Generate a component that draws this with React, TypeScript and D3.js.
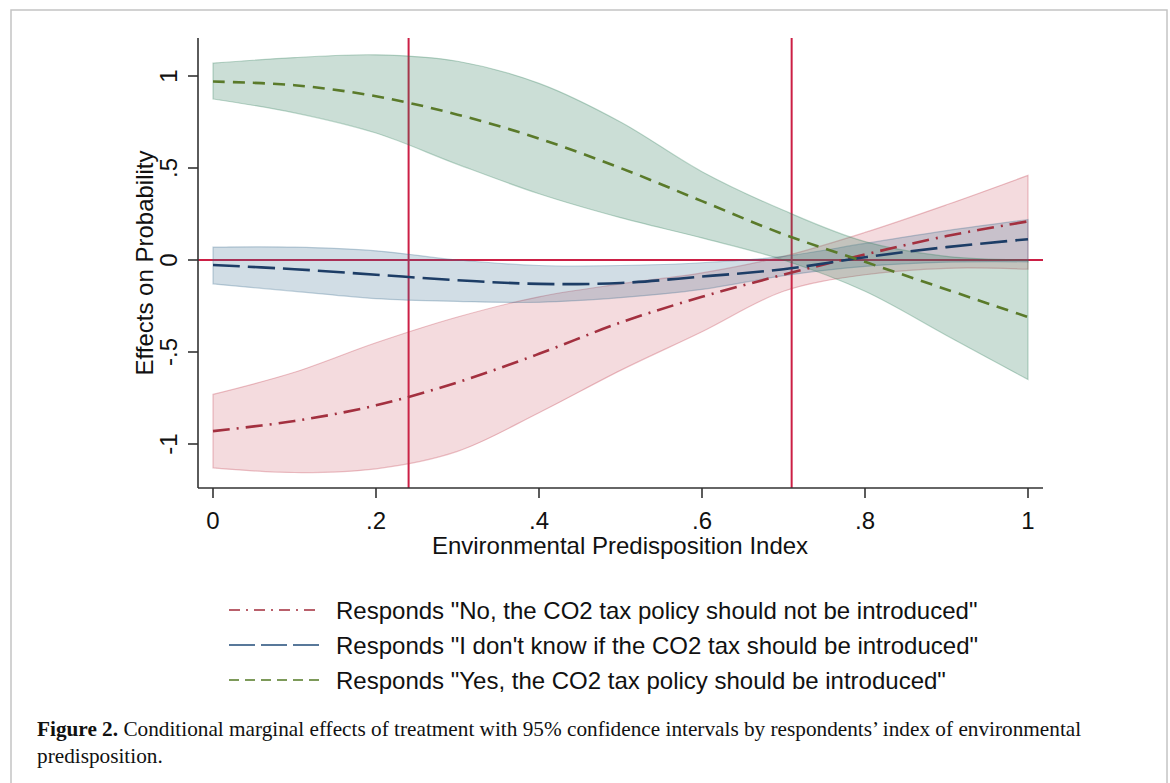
import React from "react";
import * as d3 from "d3";

const xs = [0, 0.1, 0.2, 0.3, 0.4, 0.5, 0.6, 0.7, 0.8, 0.9, 1.0];

const noMean = [-0.93, -0.875, -0.79, -0.665, -0.51, -0.34, -0.2, -0.08, 0.03, 0.13, 0.21];
const noUpper = [-0.73, -0.61, -0.45, -0.31, -0.2, -0.13, -0.07, 0.02, 0.15, 0.3, 0.46];
const noLower = [-1.13, -1.155, -1.135, -1.04, -0.83, -0.6, -0.39, -0.17, -0.08, -0.045, -0.05];

const dkMean = [-0.027, -0.05, -0.08, -0.11, -0.13, -0.125, -0.09, -0.05, 0.015, 0.07, 0.113];
const dkUpper = [0.07, 0.07, 0.05, 0.0, -0.03, -0.03, -0.015, 0.02, 0.09, 0.16, 0.22];
const dkLower = [-0.13, -0.17, -0.21, -0.225, -0.23, -0.205, -0.16, -0.085, -0.035, -0.012, -0.01];

const yesMean = [0.97, 0.95, 0.89, 0.79, 0.66, 0.5, 0.32, 0.14, -0.01, -0.16, -0.31];
const yesUpper = [1.07, 1.1, 1.115, 1.08, 0.96, 0.75, 0.48, 0.27, 0.1, 0.02, 0.0];
const yesLower = [0.875, 0.8, 0.69, 0.52, 0.36, 0.23, 0.12, 0.0, -0.17, -0.41, -0.65];

const refX = [0.24, 0.71];
const refY = [0];

const xTicks = [0, 0.2, 0.4, 0.6, 0.8, 1];
const xTickLabels = ["0", ".2", ".4", ".6", ".8", "1"];
const yTicks = [-1, -0.5, 0, 0.5, 1];
const yTickLabels = ["-1", "-.5", "0", ".5", "1"];

const legendLabels = [
  'Responds "No, the CO2 tax policy should not be introduced"',
  'Responds "I don\'t know if the CO2 tax should be introduced"',
  'Responds "Yes, the CO2 tax policy should be introduced"',
];

const series = [
  { mean: noMean, upper: noUpper, lower: noLower, line: "#a3303f", fill: "#c0394a", fillOp: 0.18, dash: "17 7 2 7", legendDash: "11 6 2 6", legendColor: "#b9606b" },
  { mean: dkMean, upper: dkUpper, lower: dkLower, line: "#1d3d66", fill: "#3a6e8e", fillOp: 0.23, dash: "27 8", legendDash: "26 6", legendColor: "#58789a" },
  { mean: yesMean, upper: yesUpper, lower: yesLower, line: "#5a7a2a", fill: "#2e7d5b", fillOp: 0.25, dash: "12 8", legendDash: "10 6", legendColor: "#7d9a5a" },
];

export default function App() {
  const W = 1170;
  const H = 783;
  const plotL = 198, plotR = 1043, plotT = 38, plotB = 488;
  const x = d3.scaleLinear().domain([0, 1]).range([213, 1028]);
  const y = d3.scaleLinear().domain([-1, 1]).range([444, 76]);

  const area = d3
    .area<number>()
    .x((_, i) => x(xs[i]))
    .curve(d3.curveCatmullRom);
  const line = d3
    .line<number>()
    .x((_, i) => x(xs[i]))
    .y((d) => y(d))
    .curve(d3.curveCatmullRom);

  const sans = "'Liberation Sans', Arial, sans-serif";
  const serif = "'Liberation Serif', 'Times New Roman', serif";
  const fs = 24;

  return (
    <svg width={W} height={H} style={{ position: "absolute", left: 0, top: 0, background: "#fff" }}>
      <rect x={0} y={0} width={W} height={H} fill="#fff" />
      <rect x={11} y={10} width={1156} height={790} fill="none" stroke="#c4c4c4" strokeWidth={1.5} />

      {/* reference lines */}
      {refY.map((v, i) => (
        <line key={"ry" + i} x1={plotL} x2={plotR} y1={y(v)} y2={y(v)} stroke="#cc1f45" strokeWidth={2} />
      ))}
      {refX.map((v, i) => (
        <line key={"rx" + i} x1={x(v)} x2={x(v)} y1={plotT} y2={plotB} stroke="#cc1f45" strokeWidth={2} />
      ))}

      {/* confidence bands */}
      {series.map((s, k) => {
        const a = area.y0((_, i) => y(s.lower[i])).y1((d) => y(d));
        return (
          <path
            key={"band" + k}
            d={a(s.upper) || ""}
            fill={s.fill}
            fillOpacity={s.fillOp}
            stroke={s.fill}
            strokeOpacity={0.3}
            strokeWidth={1.2}
          />
        );
      })}

      {/* mean lines */}
      {series.map((s, k) => (
        <path key={"line" + k} d={line(s.mean) || ""} fill="none" stroke={s.line} strokeWidth={2.6} strokeDasharray={s.dash} />
      ))}

      {/* axes */}
      <line x1={plotL} x2={plotL} y1={plotT} y2={plotB} stroke="#333" strokeWidth={1.6} />
      <line x1={plotL} x2={plotR} y1={plotB} y2={plotB} stroke="#333" strokeWidth={1.6} />
      {yTicks.map((v, i) => (
        <g key={"yt" + i}>
          <line x1={plotL - 10} x2={plotL} y1={y(v)} y2={y(v)} stroke="#333" strokeWidth={1.6} />
          <text
            transform={`translate(177,${y(v)}) rotate(-90)`}
            textAnchor="middle"
            fontFamily={sans}
            fontSize={fs}
            fill="#111"
          >
            {yTickLabels[i]}
          </text>
        </g>
      ))}
      {xTicks.map((v, i) => (
        <g key={"xt" + i}>
          <line x1={x(v)} x2={x(v)} y1={plotB} y2={plotB + 10} stroke="#333" strokeWidth={1.6} />
          <text x={x(v)} y={529} textAnchor="middle" fontFamily={sans} fontSize={fs} fill="#111">
            {xTickLabels[i]}
          </text>
        </g>
      ))}
      <text x={620} y={554} textAnchor="middle" fontFamily={sans} fontSize={fs} fill="#111">
        Environmental Predisposition Index
      </text>
      <text
        transform={`translate(153,${(plotT + plotB) / 2}) rotate(-90)`}
        textAnchor="middle"
        fontFamily={sans}
        fontSize={fs}
        fill="#111"
      >
        Effects on Probability
      </text>

      {/* legend */}
      {series.map((s, k) => {
        const ly = 610 + k * 35;
        return (
          <g key={"lg" + k}>
            <line x1={229} x2={320} y1={ly} y2={ly} stroke={s.legendColor} strokeWidth={2} strokeDasharray={s.legendDash} />
            <text x={336} y={ly + 8.5} fontFamily={sans} fontSize={fs} fill="#111">
              {legendLabels[k]}
            </text>
          </g>
        );
      })}

      {/* caption */}
      <text x={37} y={736} fontFamily={serif} fontSize={21.25} fill="#111">
        <tspan fontWeight="bold">Figure 2.</tspan>
        <tspan> Conditional marginal effects of treatment with 95% confidence intervals by respondents’ index of environmental</tspan>
      </text>
      <text x={37} y={763} fontFamily={serif} fontSize={21.25} fill="#111">
        predisposition.
      </text>
    </svg>
  );
}
